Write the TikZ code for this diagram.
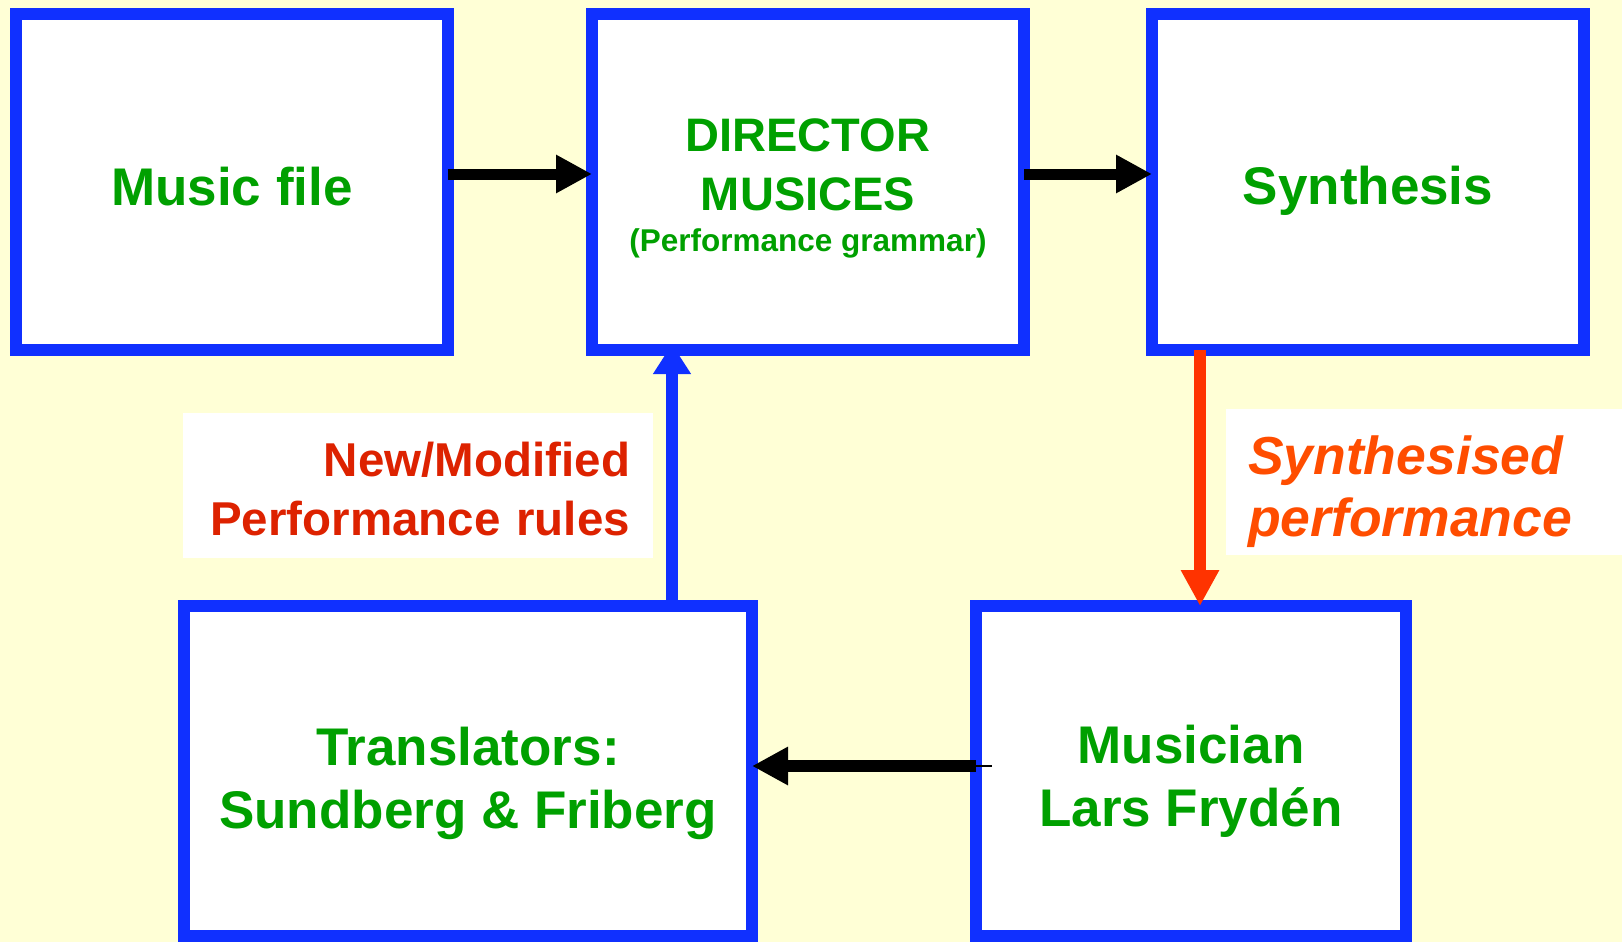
\documentclass[tikz,border=0pt]{standalone}
\usepackage{fontspec}
\setmainfont{Liberation Sans}
\usepackage{xcolor}
\usetikzlibrary{positioning,arrows.meta}
\definecolor{bgcream}{RGB}{255,255,214}
\definecolor{boxblue}{RGB}{16,48,255}
\definecolor{txtgreen}{RGB}{0,160,0}
\definecolor{rulered}{RGB}{221,34,0}
\definecolor{perforange}{RGB}{255,77,0}
\definecolor{arrowred}{RGB}{255,51,0}
\tikzset{
	every node/.style = {inner sep = 0, outer sep = 0},
	stage/.style = {draw=boxblue, line width=12pt, fill=white, text=txtgreen, align=center,
		font=\bfseries\fontsize{53}{63}\selectfont},
	note/.style = {fill=white, font=\bfseries\fontsize{47.5}{59}\selectfont},
	flow/.style = {line width=11pt, -{Triangle[length=36pt,width=36pt]}},
	>=latex
}
\newcommand{\tallline}[1]{\rule{0pt}{#1}}

\begin{document}
\begin{tikzpicture}[x=1pt, y=-1pt, node distance=144pt]
		\useasboundingbox (0,0) rectangle (1622,942);
		\fill[bgcream] (0,0) rectangle (1622,942);
		
		\node[stage, minimum width=432pt, minimum height=336pt] at (232,182) (music) {\tallline{47pt}Music file};
		\node[stage, minimum width=432pt, minimum height=336pt, right=144pt of music,
			font=\bfseries\fontsize{47}{59}\selectfont] (director)
			{\tallline{45pt}DIRECTOR\\MUSICES\\[-18pt]\fontsize{31.5}{40}\selectfont(Performance grammar)};
		\node[stage, minimum width=432pt, minimum height=336pt, right=128pt of director] (synth) {\tallline{55pt}Synthesis};
		
		\node[stage, minimum width=568pt, minimum height=330pt] at (468,771) (transl) {\tallline{63pt}Translators:\\Sundberg \& Friberg};
		\node[stage, minimum width=430pt, minimum height=330pt] at (1191,771) (musician) {\tallline{59pt}Musician\\Lars Frydén};
		
		\node[note, text=rulered, text width=424pt, align=right, minimum height=145pt, inner xsep=23pt]
			at (418,485.5) (rules) {\tallline{42pt}New/Modified\\Performance rules};
		\node[note, text=perforange, text width=352pt, align=left, minimum height=146pt, inner xsep=22pt,
			font=\bfseries\itshape\fontsize{53.5}{62}\selectfont]
			at (1424,482) (heard) {\tallline{59pt}Synthesised\\performance};
		
		\draw[flow] ([yshift=8pt]music.east) -- ([yshift=8pt]director.west);
		\draw[flow] ([yshift=8pt]director.east) -- ([yshift=8pt]synth.west);
		\draw[flow, arrowred, line width=12pt] ([xshift=-168pt]synth.south) -- ([xshift=-168pt]synth.south |- musician.north);
		\draw[flow, boxblue, line width=12pt, -{Triangle[length=30pt,width=36pt]}, shorten >=-6pt]
			([xshift=204pt]transl.north) -- ([xshift=204pt]transl.north |- director.south);
		\draw[flow, line width=12pt] ([yshift=5pt]musician.west) -- ([yshift=5pt]transl.east);
		\draw[line width=1.5pt] ([yshift=5pt]musician.west) -- ++(16,0);
\end{tikzpicture}
\end{document}
